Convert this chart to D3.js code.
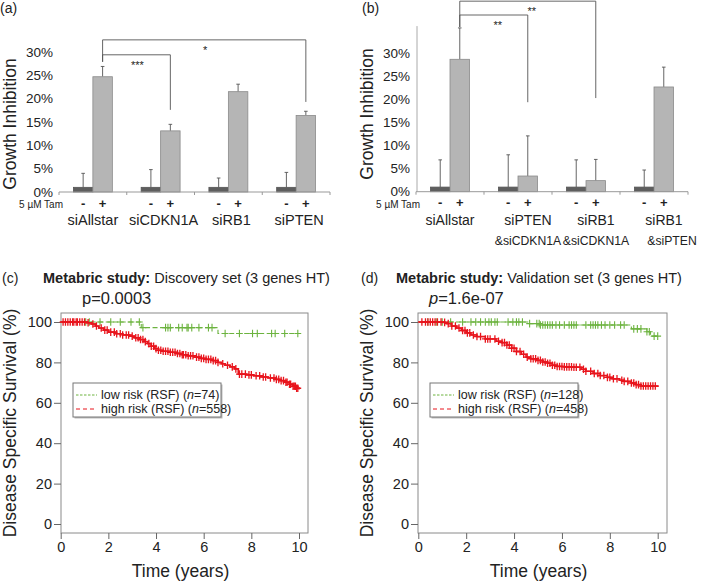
<!DOCTYPE html>
<html><head><meta charset="utf-8">
<script src="https://cdn.jsdelivr.net/npm/d3@7"></script>
<style>
body{margin:0;background:#fff}
svg{display:block}
text{font-family:"Liberation Sans",Arial,Helvetica,sans-serif;fill:#222}
</style>
</head><body>
<svg id="chart" width="712" height="582"></svg>
<script>
// ---------------- DATA ----------------
// Panel (a)
const catsA = [["siAllstar"],["siCDKN1A"],["siRB1"],["siPTEN"]];
const minusA = [1.0, 1.0, 1.0, 1.0];
const minusHiA = [4.0, 4.8, 3.0, 4.2];
const plusA = [24.7, 13.1, 21.5, 16.4];
const plusHiA = [26.9, 14.5, 23.1, 17.3];
const sigA = [
  {from:0, to:3, top:32.6, footL:27.9, footR:19.3, label:"*"},
  {from:0, to:1, top:29.4, footL:27.9, footR:17.6, label:"***"}
];
// Panel (b)
const catsB = [["siAllstar"],["siPTEN","&siCDKN1A"],["siRB1","&siCDKN1A"],["siRB1","&siPTEN"]];
const minusB = [1.0, 1.0, 1.0, 1.0];
const minusHiB = [6.9, 8.0, 6.9, 4.7];
const plusB = [28.7, 3.4, 2.4, 22.7];
const plusHiB = [35.5, 12.1, 7.0, 27.0];
const sigB = [
  {from:0, to:2, top:41.3, footL:35.7, footR:20.3, label:"**"},
  {from:0, to:1, top:38.3, footL:35.7, footR:19.4, label:"**"}
];
const barTicks = [0, 5, 10, 15, 20, 25, 30];
const tamLabels = ["-", "+"];

// Panel (c) Kaplan-Meier: [time, survival %]
const lowC = [[0,100],[3.38,97.2],[6.6,94.3],[10,94.3]];
const highC = [[0,100],[1.1,99.6],[1.3,99],[1.45,98],[1.6,97],[1.8,96],[2.0,95],[2.3,94.2],[2.6,93.6],[2.9,93],[3.1,92.2],[3.3,91.3],[3.5,90.3],[3.65,89.3],[3.8,88],[3.95,86.8],[4.1,86],[4.3,85.5],[4.6,85],[4.85,84.4],[5.1,83.8],[5.3,83.3],[5.6,82.6],[5.85,82],[6.1,81.5],[6.4,80.9],[6.6,80],[6.75,79.3],[6.9,78.6],[7.1,77.8],[7.3,76.8],[7.45,74.2],[7.8,73.8],[8.1,73.4],[8.4,72.8],[8.7,72.3],[9.0,71.6],[9.2,71],[9.4,70.2],[9.6,69.2],[9.75,68.2],[9.9,67.2],[10,66.6]];
const lowCensC = [1.05,1.2,1.65,2.1,2.5,2.95,3.3,3.45,4.4,4.5,4.6,4.95,5.1,5.3,5.35,5.5,5.8,6.2,6.35,6.9,7.5,8.05,8.25,8.85,9.0,9.4,9.95];
const highCensC = [0.1,0.2,0.3,0.4,0.5,0.55,0.65,0.7,0.8,0.9,1.0,1.15,1.35,1.5,1.7,1.85,1.95,2.1,2.25,2.35,2.5,2.6,2.75,2.85,3.0,3.15,3.25,3.35,3.45,3.55,3.7,3.8,3.9,4.0,4.1,4.2,4.3,4.4,4.5,4.6,4.7,4.8,4.9,5.0,5.1,5.15,5.25,5.35,5.45,5.55,5.7,5.8,5.9,6.0,6.1,6.2,6.3,6.4,6.5,6.6,6.8,7.0,7.2,7.35,7.5,7.6,7.75,7.9,8.0,8.2,8.35,8.5,8.6,8.8,8.95,9.05,9.15,9.25,9.35,9.45,9.5,9.6,9.65,9.75,9.8,9.85,9.9,9.95];
// Panel (d)
const lowD = [[0,100],[4.6,99.2],[5.1,98.5],[8.9,96.6],[9.55,95.2],[9.7,93],[10,93]];
const highD = [[0,100],[1.0,99.8],[1.2,99.2],[1.4,98],[1.6,97],[1.8,95.8],[2.0,94.6],[2.2,93.6],[2.45,92.8],[2.8,91.6],[3.25,90.5],[3.5,89.8],[3.7,88.6],[3.9,87],[4.1,85.4],[4.3,84],[4.5,82.6],[4.7,81.8],[4.95,81],[5.2,80.2],[5.4,79.6],[5.6,78.6],[5.8,78],[6.1,77.8],[6.5,77.6],[6.8,76.6],[7.0,75.6],[7.3,74.5],[7.6,73.5],[7.9,72.6],[8.1,71.9],[8.4,71.2],[8.6,70.6],[8.9,69.8],[9.1,69],[9.3,68.3],[10,67.8]];
const lowCensD = [0.4,0.75,1.0,1.35,1.85,2.2,2.4,2.6,2.8,2.95,3.05,3.2,3.3,3.75,3.95,4.1,4.2,4.35,4.65,4.95,5.05,5.1,5.2,5.3,5.4,5.5,5.6,5.75,5.9,6.1,6.3,6.4,6.5,6.6,7.0,7.2,7.3,7.4,7.5,7.65,7.8,8.0,8.2,8.45,8.6,9.0,9.15,9.3,9.55,9.65,9.85,10.0];
const highCensD = [0.15,0.3,0.4,0.5,0.6,0.7,0.8,0.95,1.1,1.25,1.4,1.55,1.7,1.85,1.95,2.05,2.15,2.3,2.45,2.6,2.8,2.9,3.0,3.2,3.35,3.5,3.6,3.7,3.8,3.9,4.0,4.1,4.25,4.4,4.55,4.7,4.8,4.9,5.0,5.1,5.2,5.3,5.4,5.5,5.6,5.7,5.8,5.9,6.0,6.1,6.2,6.3,6.4,6.5,6.6,6.75,6.9,7.0,7.2,7.35,7.5,7.6,7.75,7.9,8.0,8.15,8.3,8.5,8.6,8.75,8.9,9.0,9.1,9.2,9.3,9.4,9.5,9.6,9.7,9.8,9.9];
const kmYTicks = [0, 20, 40, 60, 80, 100];
const kmXTicks = [0, 2, 4, 6, 8, 10];

// ---------------- DRAW ----------------
const svg = d3.select("#chart");
const FONT = '"Liberation Sans",Arial,sans-serif';

function barPanel(o) {
  const g = svg.append("g");
  const n = o.cats.length;
  const x = d3.scaleBand().domain(d3.range(n)).range([o.x0, o.x1]);
  const sub = d3.scaleBand().domain(tamLabels).range([0, x.bandwidth()]).paddingOuter(0.74);
  const y = d3.scaleLinear().domain([0, 30]).range([o.yBase, o.yTop]);
  const cx = (i, k) => x(i) + sub(k) + sub.bandwidth() / 2;

  if (o.axisTop) {
    g.append("line").attr("x1", o.x0 + 1).attr("x2", o.x0 + 1)
      .attr("y1", y(0)).attr("y2", y(o.axisTop)).attr("stroke", "#aaa");
  }
  // y tick labels
  g.selectAll(".yt").data(barTicks).join("text")
    .attr("x", o.x0 - 6).attr("y", d => y(d) + 4.5)
    .attr("text-anchor", "end").attr("font-size", 13.5)
    .text(d => d + "%");
  // bars
  const bars = [];
  o.minus.forEach((v, i) => bars.push({i, k: "-", v, hi: o.minusHi[i]}));
  o.plus.forEach((v, i) => bars.push({i, k: "+", v, hi: o.plusHi[i]}));
  g.selectAll(".eb").data(bars).join("line")
    .attr("x1", d => cx(d.i, d.k)).attr("x2", d => cx(d.i, d.k))
    .attr("y1", d => y(d.v)).attr("y2", d => y(d.hi))
    .attr("stroke", "#555").attr("stroke-width", 0.9);
  g.selectAll(".ec").data(bars).join("line")
    .attr("x1", d => cx(d.i, d.k) - 1.8).attr("x2", d => cx(d.i, d.k) + 1.8)
    .attr("y1", d => y(d.hi)).attr("y2", d => y(d.hi))
    .attr("stroke", "#555").attr("stroke-width", 0.9);
  g.selectAll(".bar").data(bars).join("rect")
    .attr("x", d => x(d.i) + sub(d.k)).attr("width", sub.bandwidth())
    .attr("y", d => y(d.v)).attr("height", d => y(0) - y(d.v))
    .attr("fill", d => d.k === "-" ? "#5e5e5e" : "#b5b5b5")
    .attr("stroke", d => d.k === "-" ? "#555" : "#8a8a8a").attr("stroke-width", 0.8);
  // baseline + separators
  g.append("line").attr("x1", o.x0).attr("x2", o.x1).attr("y1", y(0)).attr("y2", y(0))
    .attr("stroke", "#999").attr("stroke-width", 1);
  g.selectAll(".sep").data(d3.range(n + 1)).join("line")
    .attr("x1", i => o.x0 + i * x.step()).attr("x2", i => o.x0 + i * x.step())
    .attr("y1", y(0)).attr("y2", y(0) + 3).attr("stroke", "#999");
  // tam row
  g.append("text").attr("x", o.x0 + 4).attr("y", o.yBase + 16).attr("text-anchor", "end")
    .attr("font-size", 10).text("5 µM Tam");
  g.selectAll(".pm").data(bars).join("text")
    .attr("x", d => cx(d.i, d.k)).attr("y", o.yBase + 15.5)
    .attr("text-anchor", "middle").attr("font-size", 13).attr("font-weight", "bold")
    .text(d => d.k === "-" ? "-" : "+");
  // category labels
  o.cats.forEach((lines, i) => {
    lines.forEach((t, j) => {
      g.append("text")
        .attr("x", x(i) + x.bandwidth() / 2 + (i > 0 ? o.labShift : 0) + (j > 0 && i === n - 1 ? o.line2Shift : 0))
        .attr("y", o.yBase + 33 + j * 20)
        .attr("text-anchor", "middle").attr("font-size", j > 0 ? o.fs2 : o.fs1).text(t);
    });
  });
  // significance brackets
  o.sig.forEach(s => {
    const xa = cx(s.from, "+"), xb = cx(s.to, "+"), yt = y(s.top);
    g.append("path")
      .attr("d", `M${xa},${y(s.footL)}V${yt}H${xb}V${y(s.footR)}`)
      .attr("fill", "none").attr("stroke", "#555").attr("stroke-width", 0.9);
    g.append("text").attr("x", (xa + xb) / 2 + o.starShift).attr("y", yt + 14)
      .attr("text-anchor", "middle").attr("font-size", 11).text(s.label);
  });
  // y title
  g.append("text").attr("transform", `translate(${o.titleX},${o.titleY}) rotate(-90)`)
    .attr("text-anchor", "middle").attr("font-size", 17.5).text("Growth Inhibition");
  // panel letter
  g.append("text").attr("x", o.letterX).attr("y", 13).attr("font-size", 14).text(o.letter);
}

barPanel({cats: catsA, minus: minusA, minusHi: minusHiA, plus: plusA, plusHi: plusHiA, sig: sigA,
  x0: 59, x1: 330, yBase: 192, yTop: 52, axisTop: null, titleX: 16, titleY: 124,
  letter: "(a)", letterX: 0, labShift: 3, line2Shift: 0, starShift: 1, fs1: 14.5, fs2: 14.5});
barPanel({cats: catsB, minus: minusB, minusHi: minusHiB, plus: plusB, plusHi: plusHiB, sig: sigB,
  x0: 416, x1: 688, yBase: 191.7, yTop: 53.3, axisTop: 35.9, titleX: 373, titleY: 114,
  letter: "(b)", letterX: 362, labShift: 10, line2Shift: 8, starShift: 4, fs1: 14, fs2: 12.2});

function survAt(curve, t) {
  let s = curve[0][1];
  for (const p of curve) { if (p[0] <= t) s = p[1]; }
  return s;
}

function kmPanel(o) {
  const g = svg.append("g");
  const x = d3.scaleLinear().domain([0, 10]).range([o.xa, o.xb]);
  const y = d3.scaleLinear().domain([0, 100]).range([524, 322]);
  // box
  g.append("rect").attr("x", o.boxL).attr("y", 313).attr("width", o.boxR - o.boxL).attr("height", 220)
    .attr("fill", "none").attr("stroke", "#8a8a8a").attr("stroke-width", 1);
  const ya = g.append("g").attr("transform", `translate(${o.boxL},0)`)
    .call(d3.axisLeft(y).tickValues(kmYTicks).tickSize(7).tickPadding(2));
  const xa = g.append("g").attr("transform", `translate(0,533)`)
    .call(d3.axisBottom(x).tickValues(kmXTicks).tickSize(6).tickPadding(3));
  [ya, xa].forEach(a => {
    a.select(".domain").remove();
    a.selectAll("line").attr("stroke", "#666");
    a.selectAll("text").attr("font-size", 14.5).attr("font-family", FONT).attr("fill", "#222");
  });
  const line = d3.line().x(d => x(d[0])).y(d => y(d[1])).curve(d3.curveStepAfter);
  const series = [
    {curve: o.low, cens: o.lowCens, color: "#6cb33f", dash: "5,2.5", w: 1.1, cw: 1.1},
    {curve: o.high, cens: o.highCens, color: "#e8141c", dash: null, w: 1.6, cw: 1.3}
  ];
  series.forEach(s => {
    g.append("path").attr("d", line(s.curve)).attr("fill", "none")
      .attr("stroke", s.color).attr("stroke-width", s.w).attr("stroke-dasharray", s.dash);
    g.selectAll(null).data(s.cens).join("path")
      .attr("d", t => {
        const px = x(t), py = y(survAt(s.curve, t));
        return `M${px - 3.4},${py}H${px + 3.4}M${px},${py - 3.8}V${py + 3.8}`;
      })
      .attr("stroke", s.color).attr("stroke-width", s.cw).attr("fill", "none");
  });
  // legend
  const lx = o.legX, ly = 383;
  g.append("rect").attr("x", lx + 1.5).attr("y", ly + 1.5).attr("width", 148).attr("height", 34)
    .attr("fill", "#bbb");
  g.append("rect").attr("x", lx).attr("y", ly).attr("width", 148).attr("height", 34)
    .attr("fill", "#fff").attr("stroke", "#777").attr("stroke-width", 1);
  const leg = [
    {label: "low risk (RSF) (", n: o.nLow, color: "#6cb33f", dash: "2.5,1.5"},
    {label: "high risk (RSF) (", n: o.nHigh, color: "#e8141c", dash: "4,3"}
  ];
  leg.forEach((d, i) => {
    const yy = ly + 12 + i * 14;
    g.append("line").attr("x1", lx + 3).attr("x2", lx + 24).attr("y1", yy).attr("y2", yy)
      .attr("stroke", d.color).attr("stroke-dasharray", d.dash).attr("stroke-width", 1);
    const t = g.append("text").attr("x", lx + 28).attr("y", yy + 4.3).attr("font-size", 12.5);
    t.append("tspan").text(d.label);
    t.append("tspan").attr("font-style", "italic").text("n");
    t.append("tspan").text("=" + d.n + ")");
  });
  // titles
  g.append("text").attr("x", o.letterX).attr("y", 283).attr("font-size", 14).text(o.letter);
  const tt = g.append("text").attr("x", o.titleX).attr("y", 283).attr("font-size", 14.5);
  tt.append("tspan").attr("font-weight", "bold").text("Metabric study:");
  tt.append("tspan").text(" " + o.title);
  const pt = g.append("text").attr("x", o.pX).attr("y", 304).attr("font-size", 16.5);
  pt.append("tspan").attr("font-style", o.pItalic ? "italic" : "normal").text("p");
  pt.append("tspan").text("=" + o.pval);
  // axis titles
  g.append("text").attr("x", (o.boxL + o.boxR) / 2 - 4).attr("y", 577).attr("text-anchor", "middle")
    .attr("font-size", 17.5).text("Time (years)");
  g.append("text").attr("transform", `translate(${o.yTitleX},423) rotate(-90)`)
    .attr("text-anchor", "middle").attr("font-size", 17.5).text("Disease Specific Survival (%)");
}

kmPanel({low: lowC, high: highC, lowCens: lowCensC, highCens: highCensC,
  xa: 60.7, xb: 299, boxL: 61, boxR: 308, legX: 73, nLow: 74, nHigh: 558,
  letter: "(c)", letterX: 2, title: "Discovery set (3 genes HT)", titleX: 43,
  pX: 82, pval: "0.0003", pItalic: false, yTitleX: 16});
kmPanel({low: lowD, high: highD, lowCens: lowCensD, highCens: highCensD,
  xa: 418.3, xb: 657.7, boxL: 418, boxR: 667, legX: 430, nLow: 128, nHigh: 458,
  letter: "(d)", letterX: 361, title: "Validation set (3 genes HT)", titleX: 396,
  pX: 429, pval: "1.6e-07", pItalic: true, yTitleX: 373});
</script>
</body></html>
